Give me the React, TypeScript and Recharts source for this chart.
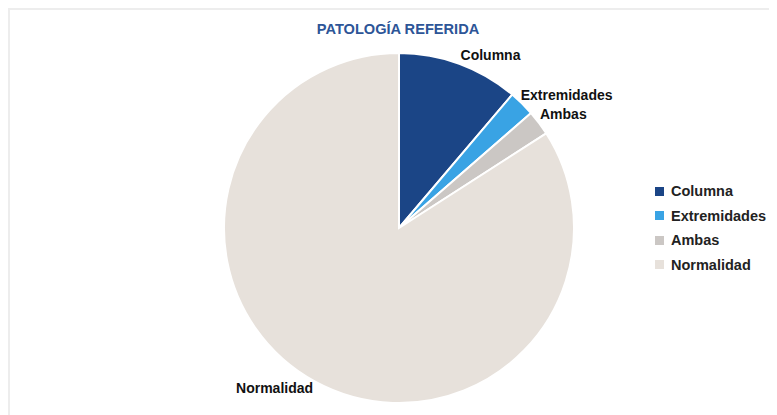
import { Cell, Legend, Pie, PieChart } from "recharts";

const categories = ["Columna", "Extremidades", "Ambas", "Normalidad"];
const values = [11.2, 2.4, 2.3, 84.1];
const colors = ["#1b4586", "#39a3e4", "#cbc7c4", "#e7e1db"];

// label nudges relative to the default outside position (style only)
const labelNudge: Record<string, [number, number]> = {
  Columna: [25, 8],
  Extremidades: [32, 4],
  Ambas: [10, 2],
  Normalidad: [-32, -9],
};

const data = categories.map((name, i) => ({ name, value: values[i] }));

const RAD = Math.PI / 180;

function renderLabel(props: any) {
  const { cx, cy, midAngle, outerRadius, name } = props;
  const r = outerRadius + 18;
  const x = cx + r * Math.cos(-midAngle * RAD);
  const y = cy + r * Math.sin(-midAngle * RAD);
  const [dx, dy] = labelNudge[name] ?? [0, 0];
  return (
    <text
      x={x + dx}
      y={y + dy}
      textAnchor="middle"
      dominantBaseline="central"
      fill="#111"
      fontSize={14}
      fontWeight="bold"
      fontFamily="Liberation Sans, Arial, sans-serif"
    >
      {name}
    </text>
  );
}

function LegendContent() {
  return (
    <div style={{ fontFamily: "Liberation Sans, Arial, sans-serif" }}>
      {categories.map((name, i) => (
        <div
          key={name}
          style={{ display: "flex", alignItems: "center", height: 24.5 }}
        >
          <span
            style={{
              display: "inline-block",
              width: 9,
              height: 9,
              background: colors[i],
              marginRight: 7,
            }}
          />
          <span style={{ fontSize: 14.5, fontWeight: "bold", color: "#222" }}>
            {name}
          </span>
        </div>
      ))}
    </div>
  );
}

export default function App() {
  return (
    <div
      style={{
        position: "relative",
        width: 769,
        height: 407,
        borderTop: "2px solid #ededed",
        borderLeft: "2px solid #ededed",
        boxSizing: "border-box",
        background: "#fff",
      }}
    >
      <div
        style={{
          position: "absolute",
          top: 11,
          left: 0,
          width: 776,
          textAlign: "center",
          fontFamily: "Liberation Sans, Arial, sans-serif",
          fontWeight: "bold",
          fontSize: 14.6,
          color: "#2d5597",
        }}
      >
        PATOLOGÍA REFERIDA
      </div>
      <PieChart width={767} height={405}>
        <Pie
          data={data}
          dataKey="value"
          nameKey="name"
          cx={384}
          cy={213}
          outerRadius={175}
          startAngle={90}
          endAngle={-270}
          stroke="#fff"
          strokeWidth={2}
          label={renderLabel}
          labelLine={false}
          isAnimationActive={false}
        >
          {data.map((d, i) => (
            <Cell key={d.name} fill={colors[i]} />
          ))}
        </Pie>
        <Legend
          layout="vertical"
          align="right"
          verticalAlign="top"
          content={<LegendContent />}
          wrapperStyle={{ left: 645, top: 169, width: 125 }}
        />
      </PieChart>
    </div>
  );
}
